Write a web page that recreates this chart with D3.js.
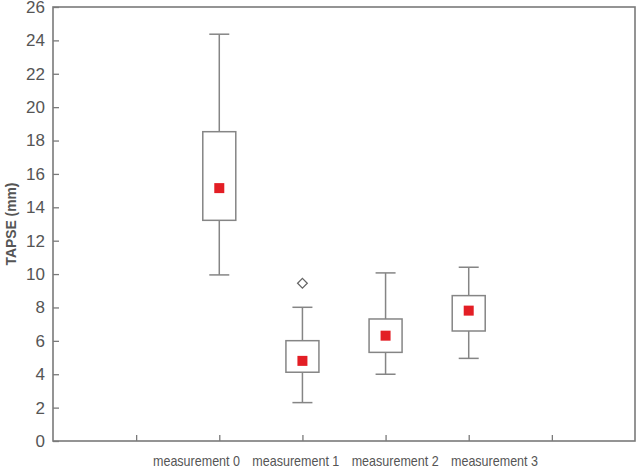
<!DOCTYPE html>
<html>
<head>
<meta charset="utf-8">
<script src="https://cdn.jsdelivr.net/npm/d3@7"></script>
<style>
  body { margin: 0; background: #fff; }
  text { font-family: "Liberation Sans", Arial, sans-serif; fill: #555; }
</style>
</head>
<body>
<div id="chart"></div>
<script>
// data
var categories = ['measurement 0', 'measurement 1', 'measurement 2', 'measurement 3'];
var whiskerLow = [9.95, 2.30, 4.00, 4.95];
var q1 = [13.22, 4.12, 5.31, 6.59];
var q3 = [18.53, 6.01, 7.31, 8.71];
var whiskerHigh = [24.37, 8.01, 10.07, 10.41];
var means = [15.15, 4.80, 6.31, 7.81];
var outliers = [[1, 9.45]];
var yTicks = [0, 2, 4, 6, 8, 10, 12, 14, 16, 18, 20, 22, 24, 26];

var width = 636;
var height = 468;
var padding = {top: 7, right: 1, bottom: 27, left: 53};
var plotW = width - padding.left - padding.right;
var plotH = height - padding.top - padding.bottom;

var svg = d3.select('#chart')
    .append('svg')
    .attr('width', width)
    .attr('height', height);

// x runs over 7 slots, categories sit at slots 2..5
var xScale = d3.scaleLinear()
    .domain([0, 7])
    .range([0, plotW]);
var yScale = d3.scaleLinear()
    .domain([0, 26])
    .range([plotH, 0]);
// the category labels are spread out evenly, not under the ticks
var labelScale = d3.scalePoint()
    .domain(categories)
    .range([196 - padding.left, 494 - padding.left]);

var g = svg.append('g')
    .attr('transform', 'translate(' + padding.left + ',' + padding.top + ')');

var axisColor = '#7a7a7a';

// frame
g.append('rect')
    .attr('x', 0)
    .attr('y', 0)
    .attr('width', plotW)
    .attr('height', plotH)
    .attr('fill', 'none')
    .attr('stroke', axisColor)
    .attr('stroke-width', 1.6);

var yAxis = d3.axisLeft(yScale)
    .tickValues(yTicks)
    .tickSize(-6)
    .tickPadding(8);
var yG = g.append('g').call(yAxis);
yG.select('.domain').remove();
yG.selectAll('line').attr('stroke', axisColor).attr('stroke-width', 1.3);
yG.selectAll('text')
    .style('font-size', '17px')
    .attr('fill', '#555');

var xAxis = d3.axisBottom(xScale)
    .tickValues([1, 2, 3, 4, 5, 6])
    .tickSize(-6)
    .tickFormat('');
var xG = g.append('g')
    .attr('transform', 'translate(0,' + plotH + ')')
    .call(xAxis);
xG.select('.domain').remove();
xG.selectAll('line').attr('stroke', axisColor).attr('stroke-width', 1.3);

var labelAxis = d3.axisBottom(labelScale)
    .tickSize(0)
    .tickPadding(14);
var lG = g.append('g')
    .attr('transform', 'translate(0,' + plotH + ')')
    .call(labelAxis);
lG.select('.domain').remove();
lG.selectAll('text')
    .style('font-size', '15px')
    .attr('fill', '#555')
    .attr('textLength', 87)
    .attr('lengthAdjust', 'spacingAndGlyphs');

// y label
svg.append('text')
    .attr('transform', 'translate(10,' + (padding.top + yScale(13)) + ') rotate(-90)')
    .attr('text-anchor', 'middle')
    .attr('dominant-baseline', 'central')
    .style('font-size', '15.5px')
    .style('font-weight', 'bold')
    .attr('fill', '#555')
    .attr('textLength', 83)
    .attr('lengthAdjust', 'spacingAndGlyphs')
    .text('TAPSE (mm)');

var boxW = 33;
var capW = 20;
var boxColor = '#858585';

var boxes = g.selectAll('.box')
    .data(categories)
    .enter()
    .append('g')
    .attr('class', 'box')
    .attr('transform', function (d, i) {
        return 'translate(' + xScale(i + 2) + ',0)';
    });

// whiskers
boxes.append('line')
    .attr('x1', 0).attr('x2', 0)
    .attr('y1', function (d, i) { return yScale(whiskerHigh[i]); })
    .attr('y2', function (d, i) { return yScale(whiskerLow[i]); })
    .attr('stroke', boxColor)
    .attr('stroke-width', 1.5);
boxes.append('line')
    .attr('x1', -capW / 2).attr('x2', capW / 2)
    .attr('y1', function (d, i) { return yScale(whiskerHigh[i]); })
    .attr('y2', function (d, i) { return yScale(whiskerHigh[i]); })
    .attr('stroke', boxColor)
    .attr('stroke-width', 1.5);
boxes.append('line')
    .attr('x1', -capW / 2).attr('x2', capW / 2)
    .attr('y1', function (d, i) { return yScale(whiskerLow[i]); })
    .attr('y2', function (d, i) { return yScale(whiskerLow[i]); })
    .attr('stroke', boxColor)
    .attr('stroke-width', 1.5);

// box
boxes.append('rect')
    .attr('x', -boxW / 2)
    .attr('width', boxW)
    .attr('y', function (d, i) { return yScale(q3[i]); })
    .attr('height', function (d, i) { return yScale(q1[i]) - yScale(q3[i]); })
    .attr('fill', '#fff')
    .attr('stroke', boxColor)
    .attr('stroke-width', 1.5);

// mean markers
boxes.append('rect')
    .attr('x', -5)
    .attr('y', function (d, i) { return yScale(means[i]) - 5; })
    .attr('width', 10)
    .attr('height', 10)
    .attr('fill', '#e31e25');

// outliers
g.selectAll('.outlier')
    .data(outliers)
    .enter()
    .append('path')
    .attr('class', 'outlier')
    .attr('d', d3.symbol().type(d3.symbolDiamond2).size(60))
    .attr('transform', function (d) {
        return 'translate(' + xScale(d[0] + 2) + ',' + yScale(d[1]) + ')';
    })
    .attr('fill', 'none')
    .attr('stroke', '#666')
    .attr('stroke-width', 1.3);
</script>
</body>
</html>
